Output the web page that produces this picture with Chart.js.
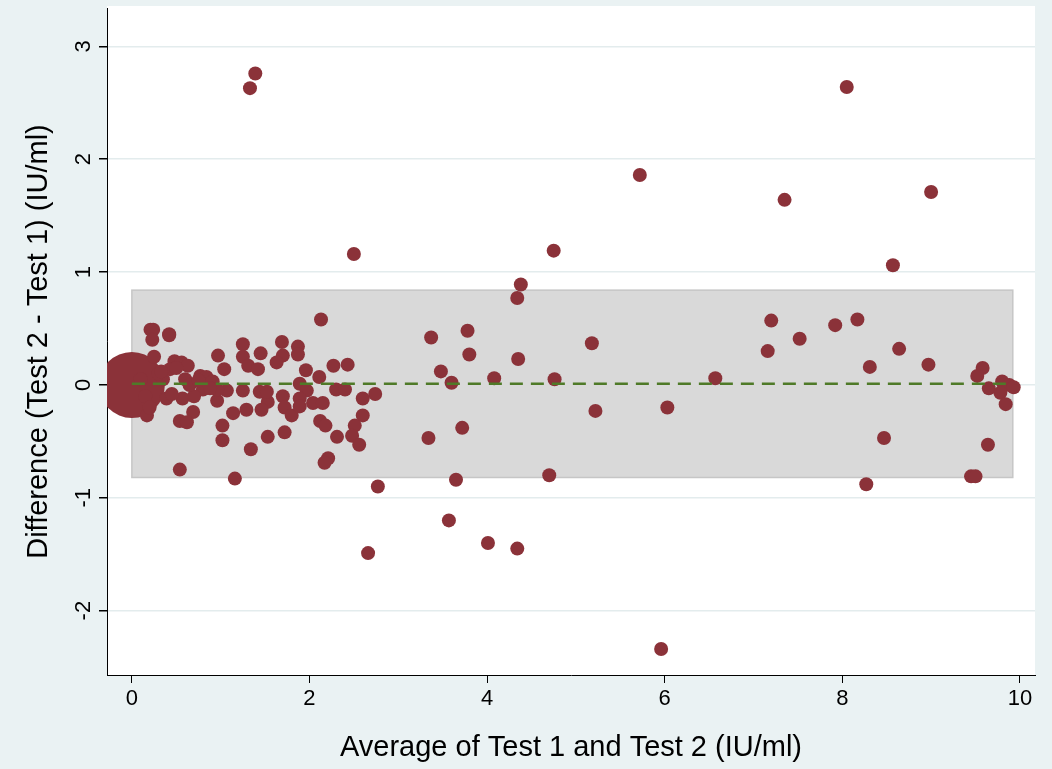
<!DOCTYPE html>
<html><head><meta charset="utf-8">
<script src="https://cdn.jsdelivr.net/npm/chart.js@4"></script>
<style>html,body{margin:0;padding:0;background:#eaf2f3;}#w{width:1052px;height:769px;}</style>
</head><body><div id="w"><canvas id="c"></canvas></div>
<script>
const avgVals = [1.33,1.39,8.05,5.72,9.0,7.35,4.75,2.5,8.57,4.38,4.34,0.21,0.42,2.13,7.2,8.17,7.92,3.78,3.37,7.52,5.18,8.64,7.16,3.8,4.35,8.97,8.31,3.48,6.57,4.08,4.76,3.6,9.58,9.52,9.8,9.88,9.93,9.65,9.78,9.84,6.03,5.22,3.34,3.72,8.47,9.64,4.7,3.65,8.27,9.45,9.5,2.77,3.57,4.01,4.34,2.66,5.96,
0.24,0.42,0.23,1.25,1.69,1.87,1.45,0.97,1.25,1.87,1.70,1.63,1.04,1.31,1.42,1.96,2.27,2.43,2.11,1.89,2.30,2.40,2.74,2.60,2.60,2.51,2.48,2.56,2.31,2.12,2.18,2.21,2.17,2.04,2.15,1.97,1.89,1.70,1.72,1.80,1.89,1.53,1.46,1.29,1.44,1.52,1.25,1.14,0.96,1.07,1.02,1.02,1.34,1.53,1.72,0.54,1.16,0.69,0.54,0.62,0.57,0.77,0.84,0.91,0.48,0.56,0.63,0.43,0.35,0.39,0.17,0.80,0.96,0.3,0.45,0.6,0.7,0.25,0.1,0.15,0.5,0.65,0.75,0.88,0.2,0.33];
const diffVals = [2.63,2.76,2.64,1.86,1.71,1.64,1.19,1.16,1.06,0.89,0.77,0.49,0.45,0.58,0.57,0.58,0.53,0.48,0.42,0.41,0.37,0.32,0.30,0.27,0.23,0.18,0.16,0.12,0.06,0.06,0.05,0.02,0.15,0.08,0.03,0.0,-0.02,-0.03,-0.07,-0.17,-0.20,-0.23,-0.47,-0.38,-0.47,-0.53,-0.80,-0.84,-0.88,-0.81,-0.81,-0.90,-1.20,-1.40,-1.45,-1.49,-2.34,
0.49,0.44,0.40,0.36,0.38,0.34,0.28,0.26,0.25,0.27,0.26,0.20,0.14,0.17,0.14,0.13,0.17,0.18,0.07,0.01,-0.04,-0.04,-0.08,-0.12,-0.27,-0.36,-0.45,-0.53,-0.46,-0.32,-0.36,-0.65,-0.69,-0.16,-0.16,-0.05,-0.12,-0.10,-0.20,-0.27,-0.19,-0.15,-0.22,-0.22,-0.06,-0.06,-0.05,-0.25,-0.14,-0.05,-0.36,-0.49,-0.57,-0.46,-0.42,-0.75,-0.83,-0.24,-0.32,-0.33,-0.12,0.08,0.07,0.03,0.21,0.20,0.17,0.14,0.05,-0.12,-0.27,-0.04,-0.04,0.1,-0.08,0.05,-0.1,0.25,0.05,-0.1,0.15,0.0,0.04,-0.03,-0.2,0.12];
const bigPoint = {x:0, y:0};
const loaBounds = [-0.82, 0.84];
const boxX = [0, 9.92];
const meanDiff = 0.01;
const yTicks = [-2,-1,0,1,2,3];
const xTicks = [0,2,4,6,8,10];

const pts = avgVals.map((x,i)=>({x, y:diffVals[i]}));
const maroon = '#8b3239';
const font = 'Liberation Sans, Arial, sans-serif';

const deco = {
  id:'deco',
  beforeDraw(ch){
    const {ctx, chartArea:a} = ch;
    ctx.save(); ctx.fillStyle='#fff'; ctx.fillRect(a.left,a.top-2,a.right-a.left,a.bottom-a.top+2); ctx.restore();
  },
  beforeDatasetsDraw(ch){
    const {ctx, scales:{x,y}} = ch;
    const l=x.getPixelForValue(boxX[0]), r=x.getPixelForValue(boxX[1]);
    const t=y.getPixelForValue(loaBounds[1]), b=y.getPixelForValue(loaBounds[0]);
    ctx.save(); ctx.fillStyle='#d9d9d9'; ctx.strokeStyle='#c6c6c6'; ctx.lineWidth=1.5;
    ctx.fillRect(l,t,r-l,b-t); ctx.strokeRect(l,t,r-l,b-t); ctx.restore();
  },
  afterDraw(ch){
    const {ctx, scales:{y}} = ch;
    ctx.save(); ctx.fillStyle='#000'; ctx.font='22px '+font; ctx.textAlign='center'; ctx.textBaseline='middle';
    yTicks.forEach(v=>{
      const py=y.getPixelForValue(v);
      ctx.save(); ctx.translate(y.right-23, py); ctx.rotate(-Math.PI/2); ctx.fillText(String(v),0,0); ctx.restore();
    });
    ctx.restore();
  }
};

new Chart(document.getElementById('c'), {
  data:{datasets:[
    {type:'line', data:[{x:boxX[0],y:meanDiff},{x:boxX[1],y:meanDiff}], borderColor:'#4f7a28', borderWidth:2.5, borderDash:[13,8], pointRadius:0, order:0},
    {type:'scatter', data:pts, backgroundColor:maroon, borderColor:maroon, pointRadius:7, pointBorderWidth:0, order:1},
    {type:'scatter', data:[bigPoint], backgroundColor:maroon, borderColor:maroon, pointRadius:33, pointBorderWidth:0, order:2}
  ]},
  options:{
    responsive:true, maintainAspectRatio:false, animation:false,
    layout:{autoPadding:false, padding:{top:8,right:17,left:0,bottom:0}},
    plugins:{legend:{display:false}, tooltip:{enabled:false}},
    scales:{
      x:{type:'linear', min:-0.28, max:10.17,
        afterBuildTicks(s){s.ticks=xTicks.map(v=>({value:v}));},
        afterFit(s){s.height=94;},
        border:{color:'#000',width:1},
        grid:{drawOnChartArea:false, tickColor:'#000', tickLength:8},
        ticks:{color:'#000', font:{family:font,size:22}, padding:3, maxRotation:0},
        title:{display:true, text:'Average of Test 1 and Test 2 (IU/ml)', color:'#000', font:{family:font,size:29}, padding:{top:8}}
      },
      y:{type:'linear', min:-2.57, max:3.34,
        afterBuildTicks(s){s.ticks=yTicks.map(v=>({value:v}));},
        afterFit(s){s.width=107;},
        border:{color:'#000',width:1},
        grid:{color:'#e3eced', lineWidth:1.5, tickColor:'#000', tickLength:8},
        ticks:{display:false},
        title:{display:true, text:'Difference (Test 2 - Test 1) (IU/ml)', color:'#000', font:{family:font,size:29}, padding:{top:22,bottom:0}}
      }
    }
  },
  plugins:[deco]
});
</script></body></html>
